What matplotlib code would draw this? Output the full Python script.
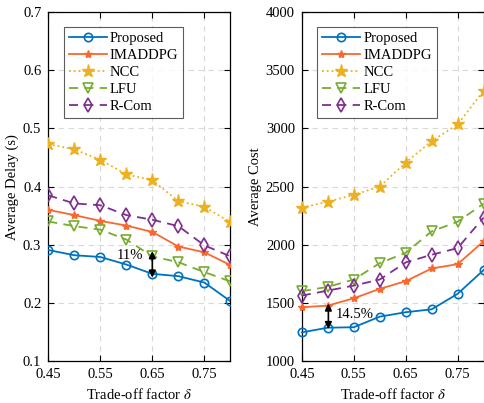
import matplotlib
matplotlib.use("Agg")
import matplotlib.pyplot as plt

plt.rcParams['font.family'] = ['Liberation Serif', 'DejaVu Serif']
plt.rcParams['mathtext.fontset'] = 'stix'

delta = [0.45, 0.50, 0.55, 0.60, 0.65, 0.70, 0.75, 0.80]
xticks = [0.45, 0.55, 0.65, 0.75]
xtick_labels = ['0.45', '0.55', '0.65', '0.75']

labels = ['Proposed', 'IMADDPG', 'NCC', 'LFU', 'R-Com']

delay_proposed = [0.291, 0.282, 0.279, 0.266, 0.250, 0.246, 0.235, 0.203]
delay_imaddpg = [0.360, 0.351, 0.341, 0.333, 0.322, 0.297, 0.287, 0.265]
delay_ncc = [0.473, 0.464, 0.446, 0.421, 0.411, 0.375, 0.365, 0.339]
delay_lfu = [0.340, 0.332, 0.326, 0.309, 0.280, 0.270, 0.253, 0.237]
delay_rcom = [0.385, 0.371, 0.368, 0.351, 0.343, 0.332, 0.299, 0.280]

cost_proposed = [1247, 1287, 1291, 1382, 1420, 1445, 1578, 1782]
cost_imaddpg = [1463, 1477, 1540, 1621, 1687, 1796, 1833, 2029]
cost_ncc = [2319, 2370, 2429, 2500, 2706, 2891, 3034, 3323]
cost_lfu = [1601, 1638, 1701, 1842, 1931, 2115, 2198, 2353]
cost_rcom = [1563, 1606, 1649, 1701, 1848, 1914, 1971, 2233]

colors = ['#0072BD', '#F7692F', '#EDB120', '#77AC30', '#7E2F8E']
styles = [
    dict(linestyle='-', marker='o', markerfacecolor='none', markersize=6, markeredgewidth=1.2, linewidth=1.3),
    dict(linestyle='-', marker='*', markersize=6, linewidth=1.3),
    dict(linestyle=':', marker='*', markersize=9.5, linewidth=1.3),
    dict(linestyle=(0, (5, 3.5)), marker='v', markerfacecolor='none', markersize=7, markeredgewidth=1.2, linewidth=1.3),
    dict(linestyle=(0, (5, 3.5)), marker='d', markerfacecolor='none', markersize=7, markeredgewidth=1.2, linewidth=1.3),
]

fig = plt.figure(figsize=(4.85, 4.03), dpi=100)
ax1 = fig.add_axes([0.0995, 0.104, 0.3755, 0.866])
ax2 = fig.add_axes([0.6225, 0.104, 0.3745, 0.866])

def style_axes(ax):
    ax.set_xlim(0.45, 0.80)
    ax.set_xticks(xticks)
    ax.set_xticklabels(xtick_labels)
    ax.grid(True, linestyle=(0, (5, 4)), color='#d9d9d9', linewidth=0.8)
    ax.set_axisbelow(True)
    ax.tick_params(direction='in', top=True, right=True, labelsize=10.5, length=4, width=0.8, pad=5)
    for s in ax.spines.values():
        s.set_linewidth(0.9)
    ax.set_xlabel(r'Trade-off factor $\delta$', fontsize=10.5, labelpad=4)

for data, c, st, lab in zip([delay_proposed, delay_imaddpg, delay_ncc, delay_lfu, delay_rcom], colors, styles, labels):
    ax1.plot(delta, data, color=c, label=lab, zorder=3, **st)
for data, c, st, lab in zip([cost_proposed, cost_imaddpg, cost_ncc, cost_lfu, cost_rcom], colors, styles, labels):
    ax2.plot(delta, data, color=c, label=lab, zorder=3, clip_on=False, **st)

style_axes(ax1)
style_axes(ax2)
ax1.set_ylim(0.1, 0.7)
ax1.set_yticks([0.1, 0.2, 0.3, 0.4, 0.5, 0.6, 0.7])
ax1.set_ylabel('Average Delay (s)', fontsize=10.5, labelpad=3)
ax2.set_ylim(1000, 4000)
ax2.set_yticks([1000, 1500, 2000, 2500, 3000, 3500, 4000])
ax2.set_ylabel('Average Cost', fontsize=10.5, labelpad=3)

for ax in (ax1, ax2):
    leg = ax.legend(loc='upper left', bbox_to_anchor=(0.06, 0.97), fontsize=10.5,
                    frameon=True, fancybox=False, edgecolor='#333333',
                    handlelength=2.6, handletextpad=0.2, labelspacing=0.25,
                    borderpad=0.35, borderaxespad=0.3)
    leg.get_frame().set_linewidth(0.8)

# annotations
ax1.annotate('', xy=(0.65, 0.2435), xytext=(0.65, 0.289),
             arrowprops=dict(arrowstyle='<|-|>', color='black', lw=1.2,
                             mutation_scale=10, shrinkA=0, shrinkB=0), zorder=5)
ax1.text(0.633, 0.281, '11%', fontsize=10.5, ha='right', va='center', zorder=5)

ax2.annotate('', xy=(0.501, 1275), xytext=(0.501, 1495),
             arrowprops=dict(arrowstyle='<|-|>', color='black', lw=1.2,
                             mutation_scale=10, shrinkA=0, shrinkB=0), zorder=5)
ax2.text(0.515, 1397, '14.5%', fontsize=10.5, ha='left', va='center', zorder=5)

fig.savefig('out.png', dpi=100)
